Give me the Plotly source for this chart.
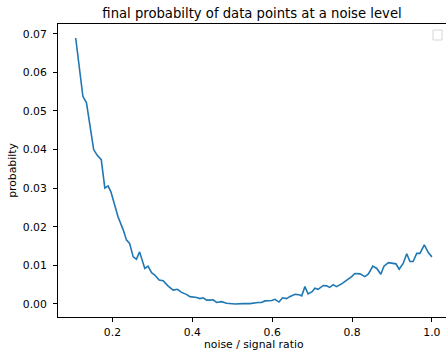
import plotly.graph_objects as go

noise_ratio = [0.108, 0.126, 0.135, 0.153, 0.162, 0.172, 0.181, 0.189, 0.196, 0.206,
               0.214, 0.227, 0.235, 0.243, 0.252, 0.260, 0.268, 0.281, 0.289, 0.298,
               0.306, 0.317, 0.327, 0.339, 0.352, 0.363, 0.373, 0.385, 0.394, 0.411,
               0.419, 0.427, 0.436, 0.444, 0.452, 0.461, 0.473, 0.486, 0.507, 0.527,
               0.544, 0.565, 0.573, 0.582, 0.599, 0.607, 0.617, 0.626, 0.636, 0.644,
               0.657, 0.668, 0.674, 0.682, 0.690, 0.700, 0.707, 0.715, 0.728, 0.736,
               0.744, 0.753, 0.761, 0.774, 0.786, 0.799, 0.807, 0.820, 0.832, 0.841,
               0.852, 0.862, 0.872, 0.880, 0.891, 0.899, 0.910, 0.918, 0.928, 0.937,
               0.945, 0.953, 0.962, 0.970, 0.981, 0.991, 1.000]
probability = [0.0689, 0.0538, 0.0521, 0.0400, 0.0385, 0.0374, 0.0300, 0.0306, 0.0291, 0.0252,
               0.0226, 0.0192, 0.0166, 0.0157, 0.0122, 0.0116, 0.0135, 0.0092, 0.0098, 0.0081,
               0.0075, 0.0062, 0.0060, 0.0047, 0.0036, 0.0038, 0.0030, 0.0025, 0.0019, 0.0017,
               0.0014, 0.0016, 0.0010, 0.0010, 0.0011, 0.0004, 0.0006, 0.0002, 0.0000, 0.0001,
               0.0001, 0.0004, 0.0004, 0.0008, 0.0009, 0.0012, 0.0005, 0.0016, 0.0014, 0.0019,
               0.0025, 0.0024, 0.0021, 0.0045, 0.0026, 0.0032, 0.0041, 0.0038, 0.0048, 0.0047,
               0.0043, 0.0050, 0.0045, 0.0052, 0.0060, 0.0071, 0.0079, 0.0078, 0.0071, 0.0078,
               0.0098, 0.0092, 0.0077, 0.0098, 0.0107, 0.0105, 0.0104, 0.0090, 0.0105, 0.0130,
               0.0110, 0.0110, 0.0131, 0.0131, 0.0153, 0.0133, 0.0122]
x_ticks = [0.2, 0.4, 0.6, 0.8, 1.0]
y_ticks = [0.00, 0.01, 0.02, 0.03, 0.04, 0.05, 0.06, 0.07]

W, H = 446, 351
L, R, T, B = 58, 0, 24, 34

fig = go.Figure()
fig.add_trace(go.Scatter(x=noise_ratio, y=probability, mode="lines",
                         line=dict(color="#1f77b4", width=1.6), showlegend=False))

font = dict(family="DejaVu Sans", size=10.8, color="black")
fig.update_layout(
    width=W, height=H,
    margin=dict(l=L, r=R, t=T, b=B, pad=0),
    paper_bgcolor="white", plot_bgcolor="white",
    font=font,
    showlegend=False,
    title=dict(text="final probabilty of data points at a noise level",
               font=dict(family="DejaVu Sans", size=13.2, color="black"),
               x=0.5, xref="paper", xanchor="center",
               y=1 - 13 / H, yref="container", yanchor="middle"),
    xaxis=dict(range=[0.0637, 1.0353], tickvals=x_ticks, tickformat=".1f",
               showgrid=False, zeroline=False, showline=True, linecolor="black",
               linewidth=1, mirror=True, ticks="outside", ticklen=4, tickwidth=1,
               tickcolor="black", ticklabelstandoff=1, tickfont=font),
    yaxis=dict(range=[-0.00337, 0.07252], tickvals=y_ticks, tickformat=".2f",
               showgrid=False, zeroline=False, showline=True, linecolor="black",
               linewidth=1, ticks="outside", ticklen=4, tickwidth=1,
               tickcolor="black", ticklabelstandoff=4, tickfont=font,
               title=dict(text="probabilty", font=font, standoff=4)),
)

pw = W - L - R
ph = H - T - B

# x-axis title placed as annotation just below tick labels
fig.add_annotation(text="noise / signal ratio", xref="paper", yref="paper",
                   x=0.5 + (254 - (L + pw / 2)) / pw, y=-(344.5 - (T + ph)) / ph,
                   xanchor="center", yanchor="middle", showarrow=False, font=font)

# empty legend frame (top right)
fig.add_shape(type="rect", xref="paper", yref="paper",
              x0=(433 - L) / pw, x1=(442 - L) / pw,
              y0=1 - (40 - T) / ph, y1=1 - (30 - T) / ph,
              line=dict(color="#d6d6d6", width=1), fillcolor="white")

fig.write_html("out.html")
